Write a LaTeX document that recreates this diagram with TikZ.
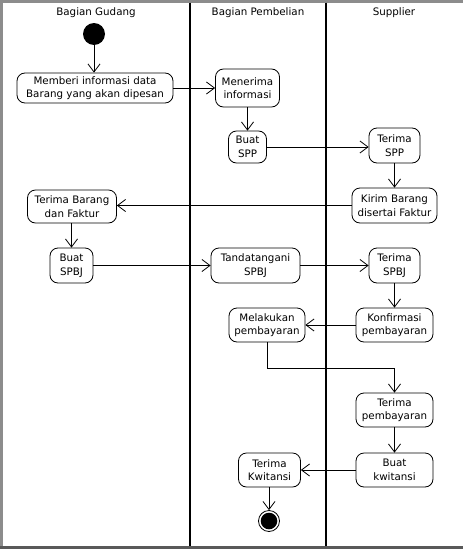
\documentclass[tikz,border=0pt]{standalone}
\usepackage{fontspec}
\setmainfont{DejaVu Sans}
\usetikzlibrary{arrows.meta}
\begin{document}
\begin{tikzpicture}[x=1pt,y=-1pt,
  act/.style={draw=black,line width=0.8pt,rounded corners=8pt,fill=white,align=center,inner sep=0pt,
    font=\fontsize{10.3}{13.6}\selectfont},
  lane/.style={font=\fontsize{10.3}{13.6}\selectfont},
  flow/.style={line width=0.8pt,-{Straight Barb[length=8pt,width=12pt,line width=0.8pt]}}]
\useasboundingbox (0,0) rectangle (463,549);
% frame
\draw[line width=2.5pt,color=black!45] (1.25,0) -- (1.25,549);
\draw[line width=2.5pt,color=black!45] (0,1.25) -- (463,1.25);
\draw[line width=3pt,color=black!65] (0,547.5) -- (463,547.5);
\draw[line width=1.3pt] (190,2.5) -- (190,546);
\draw[line width=1.3pt] (326,2.5) -- (326,546);
% lane titles
\node[lane] (l1) at (96,12.5) {Bagian Gudang};
\node[lane] (l2) at (258,12.5) {Bagian Pembelian};
\node[lane] (l3) at (394,12.5) {Supplier};
% start / end
\node[circle,fill=black,minimum size=22pt,inner sep=0pt] (start) at (94,34) {};
\node[circle,draw=black,line width=0.8pt,minimum size=21pt,inner sep=0pt] (end) at (269,521) {};
\fill[black] (end.center) circle (8.3pt);
% actions
\node[act,minimum width=156pt,minimum height=30pt] (memberi) at (95,88) {Memberi informasi data\\Barang yang akan dipesan};
\node[act,minimum width=64pt,minimum height=38pt] (menerima) at (247.5,88) {Menerima\\informasi};
\node[act,minimum width=38pt,minimum height=32pt] (buatspp) at (247.5,147) {Buat\\SPP};
\node[act,minimum width=51pt,minimum height=35pt] (terimaspp) at (394.5,145.5) {Terima\\SPP};
\node[act,minimum width=85pt,minimum height=35pt] (kirim) at (394.5,205.5) {Kirim Barang\\disertai Faktur};
\node[act,minimum width=89pt,minimum height=33pt] (terimabarang) at (72,206.5) {Terima Barang\\dan Faktur};
\node[act,minimum width=43pt,minimum height=35pt] (buatspbj) at (71.5,265.5) {Buat\\SPBJ};
\node[act,minimum width=89pt,minimum height=35pt] (tanda) at (255.5,265.5) {Tandatangani\\SPBJ};
\node[act,minimum width=51pt,minimum height=35pt] (terimaspbj) at (394.5,265.5) {Terima\\SPBJ};
\node[act,minimum width=76pt,minimum height=34pt] (melakukan) at (267,325) {Melakukan\\pembayaran};
\node[act,minimum width=77pt,minimum height=34pt] (konfirmasi) at (394.5,325) {Konfirmasi\\pembayaran};
\node[act,minimum width=77pt,minimum height=34pt] (terimapemb) at (394.5,410) {Terima\\pembayaran};
\node[act,minimum width=77pt,minimum height=34pt] (buatkw) at (394.5,470) {Buat\\kwitansi};
\node[act,minimum width=62pt,minimum height=34pt] (terimakw) at (269.5,470) {Terima\\Kwitansi};
% flows
\draw[flow] (start.south -| 94,0) -- (memberi.north -| 94,0);
\draw[flow] (memberi) -- (menerima);
\draw[flow] (menerima) -- (buatspp);
\draw[flow] (buatspp) -- (terimaspp.west |- buatspp);
\draw[flow] (terimaspp) -- (kirim);
\draw[flow] (kirim) -- (terimabarang.east |- kirim);
\draw[flow] (terimabarang.south -| buatspbj) -- (buatspbj);
\draw[flow] (buatspbj) -- (tanda);
\draw[flow] (tanda) -- (terimaspbj);
\draw[flow] (terimaspbj) -- (konfirmasi);
\draw[flow] (konfirmasi) -- (melakukan);
\draw[flow] (melakukan.south) -- ++(0,26) -| (terimapemb.north);
\draw[flow] (terimapemb) -- (buatkw);
\draw[flow] (buatkw) -- (terimakw);
\draw[flow] (terimakw.south -| end) -- (end);
\end{tikzpicture}
\end{document}
